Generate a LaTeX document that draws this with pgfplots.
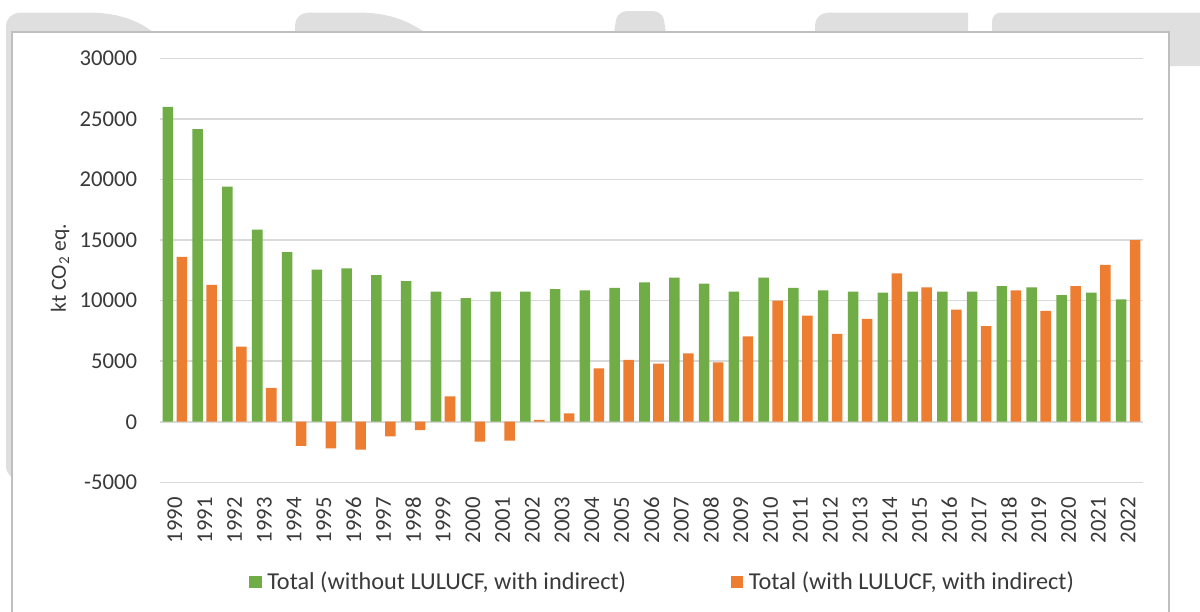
\documentclass[border=0pt]{standalone}
\usepackage{pgfplots}
\usepackage{pgfplotstable}
\pgfplotsset{compat=1.18}
\usepackage{fontspec}
\setmainfont{Carlito}
\definecolor{cgreen}{HTML}{70AD47}
\definecolor{corange}{HTML}{ED7D31}
\definecolor{wm}{HTML}{DFDFDF}
\definecolor{gridc}{HTML}{D9D9D9}
\definecolor{framec}{HTML}{BFBFBF}
\definecolor{txt}{HTML}{3A3A3A}
\newcommand\tickfont{\fontsize{17pt}{20pt}\selectfont}
\newcommand\labfont{\fontsize{16.2pt}{19pt}\selectfont}
\newcommand\legfont{\fontsize{18.2pt}{21pt}\selectfont}

\pgfplotstableread{
i year g o
0 1990 26000 13600
1 1991 24150 11300
2 1992 19400 6200
3 1993 15850 2800
4 1994 14000 -2000
5 1995 12550 -2200
6 1996 12650 -2300
7 1997 12100 -1200
8 1998 11600 -700
9 1999 10750 2100
10 2000 10200 -1650
11 2001 10750 -1550
12 2002 10750 150
13 2003 10950 700
14 2004 10850 4400
15 2005 11050 5100
16 2006 11500 4800
17 2007 11900 5650
18 2008 11400 4900
19 2009 10750 7050
20 2010 11900 10000
21 2011 11050 8750
22 2012 10850 7250
23 2013 10750 8500
24 2014 10650 12250
25 2015 10750 11100
26 2016 10750 9250
27 2017 10750 7900
28 2018 11200 10850
29 2019 11100 9150
30 2020 10450 11200
31 2021 10650 12950
32 2022 10100 15000
}\datatable

\begin{document}
\begin{tikzpicture}
\useasboundingbox (0,0) rectangle (900pt,-458.25pt);
\begin{scope}[x=0.75pt,y=-0.75pt]
  % faint watermark letters behind the chart
  \fill[wm] (6,466) -- (6,26) to[out=90,in=180] (20,12.7) -- (95,12.7)
     .. controls (125,14) and (145,24) .. (160,38) -- (160,470) -- (20,480) to[out=180,in=-90] (6,466) -- cycle;
  \fill[wm] (295,40) -- (295,25) to[out=90,in=180] (308,12.7) -- (365,12.7)
     .. controls (395,14) and (415,24) .. (432,38) -- cycle;
  \fill[wm] (613,40) -- (616,20) to[out=80,in=180] (628,11) -- (652,11) to[out=0,in=100] (664,20) -- (667,40) -- cycle;
  \fill[wm] (815,40) -- (815,25) to[out=90,in=180] (828,12.7) -- (968,12.7) -- (968,40) -- cycle;
  \fill[wm] (992,40) -- (992,22) to[out=90,in=180] (1000,12.7) -- (1210,12.7) -- (1210,66) -- (1160,66) -- (1160,40) -- cycle;
  % chart frame
  \filldraw[fill=white, draw=framec, line width=1.5pt] (12,32) rectangle (1169,640);
\end{scope}
\begin{axis}[
  at={(120pt,-361.725pt)}, anchor=south west,
  width=737.25pt, height=318pt, scale only axis,
  xmin=-0.5, xmax=32.5, ymin=-5000, ymax=30000,
  scaled y ticks=false,
  axis line style={draw=none},
  tick style={draw=none},
  major tick length=0pt,
  ytick={-5000,0,5000,10000,15000,20000,25000,30000},
  yticklabels={-5000,0,5000,10000,15000,20000,25000,30000},
  xtick={0,...,32},
  xticklabels from table={\datatable}{year},
  ymajorgrids,
  grid style={gridc, line width=1.15pt},
  xticklabel style={rotate=90, anchor=east, inner sep=0pt, font=\tickfont, text=txt},
  xticklabel shift=11pt,
  yticklabel style={anchor=east, inner sep=0pt, font=\tickfont, text=txt},
  yticklabel shift=17pt,
  ylabel={kt CO\textsubscript{2} eq.},
  ylabel style={at={(axis description cs:-0.1017,0.505)}, anchor=center, font=\labfont, text=txt},
  bar width=7.9pt,
  legend columns=2,
  legend style={at={(axis description cs:0.5117,-0.2351)}, anchor=center, draw=none, fill=none,
    font=\legfont, text=txt,
    /tikz/every even column/.append style={column sep=76.5pt}},
  legend image code/.code={\fill[#1] (0pt,-4.75pt) rectangle (9.3pt,4.75pt); \path (0pt,0pt) -- (11.5pt,0pt);},
]
\addplot[ybar, fill=cgreen, draw=none, bar shift=-5.25pt] table[x=i,y=g]{\datatable};
\addlegendentry{Total (without LULUCF, with indirect)}
\addplot[ybar, fill=corange, draw=none, bar shift=5.25pt] table[x=i,y=o]{\datatable};
\addlegendentry{Total (with LULUCF, with indirect)}
\end{axis}
\end{tikzpicture}
\end{document}
